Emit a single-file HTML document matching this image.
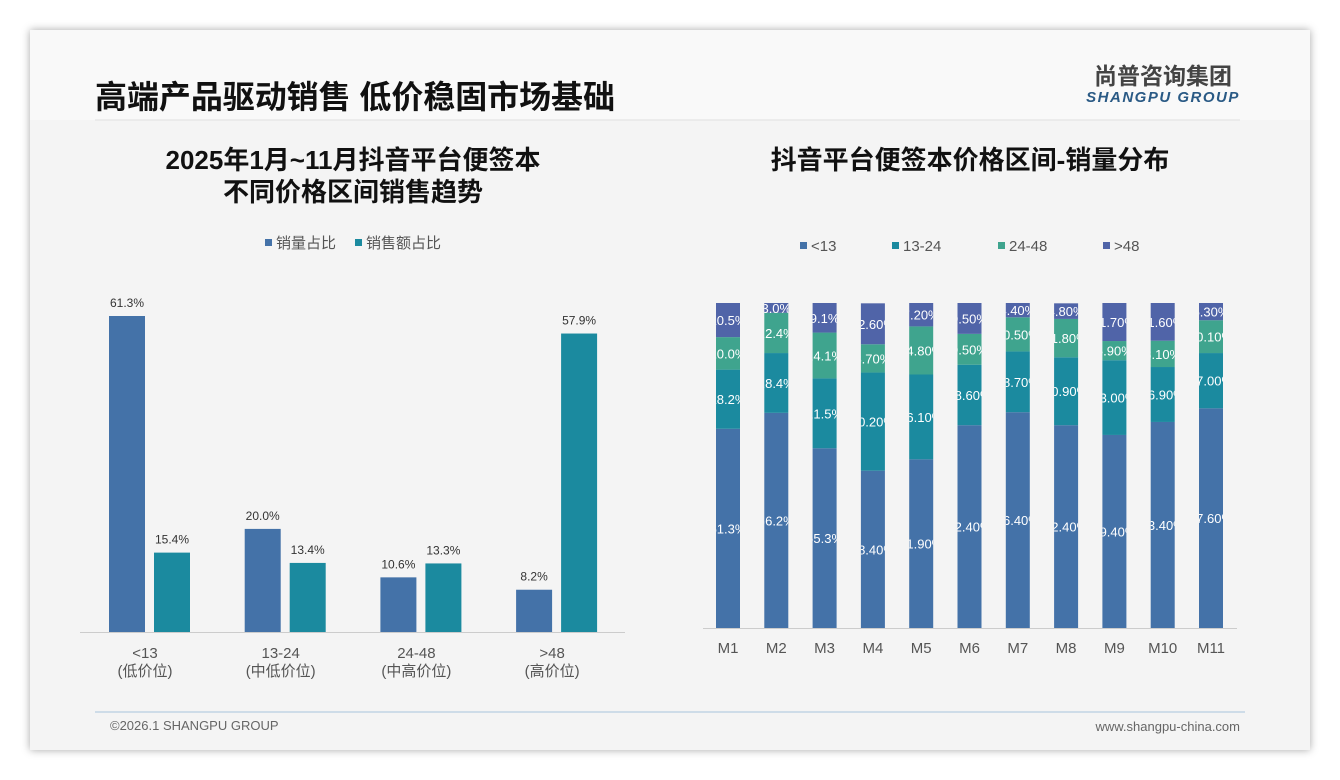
<!DOCTYPE html>
<html><head><meta charset="utf-8">
<style>
body{margin:0;width:1340px;height:780px;background:#fff;font-family:"Liberation Sans","Noto Sans CJK SC",sans-serif;position:relative;overflow:hidden}
.slide{position:absolute;left:30px;top:30px;width:1280px;height:720px;background:#f4f4f4;box-shadow:0 0 8px rgba(0,0,0,.35)}
</style></head><body>
<div class="slide"></div>
<svg width="1340" height="780" style="position:absolute;left:0;top:0">
<rect x="30" y="30" width="1280" height="90" fill="#f9f9f9"/>
<text x="95" y="108" font-size="32" font-weight="bold" fill="#111" textLength="520">高端产品驱动销售 低价稳固市场基础</text>
<line x1="95" y1="120" x2="1240" y2="120" stroke="#e0e0e0"/>
<text x="1163" y="84" font-size="23" font-weight="bold" fill="#444" text-anchor="middle">尚普咨询集团</text>
<text x="1163" y="102" font-size="15" font-weight="bold" font-style="italic" fill="#2a5a85" text-anchor="middle" letter-spacing="1.5">SHANGPU GROUP</text>
<text x="353" y="169" font-size="26" font-weight="bold" fill="#111" text-anchor="middle">2025年1月~11月抖音平台便签本</text>
<text x="353" y="201" font-size="26" font-weight="bold" fill="#111" text-anchor="middle">不同价格区间销售趋势</text>
<text x="970" y="169" font-size="26" font-weight="bold" fill="#111" text-anchor="middle">抖音平台便签本价格区间-销量分布</text>
<line x1="95" y1="712" x2="1245" y2="712" stroke="#a9c4dd"/>
<text x="110" y="730" font-size="13" fill="#666">©2026.1 SHANGPU GROUP</text>
<text x="1240" y="731" font-size="13" fill="#666" text-anchor="end">www.shangpu-china.com</text>
<g id="left"></g>
<g id="right"></g>
</svg>
<script>
const leftCats=["<13","13-24","24-48",">48"];
const leftSub=["(低价位)","(中低价位)","(中高价位)","(高价位)"];
const volShare=[61.3,20.0,10.6,8.2];
const amtShare=[15.4,13.4,13.3,57.9];
const months=["M1","M2","M3","M4","M5","M6","M7","M8","M9","M10","M11"];
const s13=[61.3,66.2,55.3,48.4,51.9,62.4,66.4,62.4,59.4,63.4,67.6];
const s1324=[18.2,18.4,21.5,30.2,26.1,18.6,18.7,20.9,23.0,16.9,17.0];
const s2448=[10.0,12.4,14.1,8.7,14.8,9.5,10.5,11.8,5.9,8.1,10.1];
const s48=[10.5,3.0,9.1,12.6,7.2,9.5,4.4,4.8,11.7,11.6,5.3];
const s13Lbl=["61.3%","66.2%","55.3%","48.40%","51.90%","62.40%","66.40%","62.40%","59.40%","63.40%","67.60%"];
const s1324Lbl=["18.2%","18.4%","21.5%","30.20%","26.10%","18.60%","18.70%","20.90%","23.00%","16.90%","17.00%"];
const s2448Lbl=["10.0%","12.4%","14.1%","8.70%","14.80%","9.50%","10.50%","11.80%","5.90%","8.10%","10.10%"];
const s48Lbl=["10.5%","3.0%","9.1%","12.60%","7.20%","9.50%","4.40%","4.80%","11.70%","11.60%","5.30%"];
const NS="http://www.w3.org/2000/svg";
function mk(p,t,a,txt){const e=document.createElementNS(NS,t);for(const k in a)e.setAttribute(k,a[k]);if(txt!=null)e.textContent=txt;p.appendChild(e);return e;}
// left chart
const L=document.getElementById('left');
const lBase=632, lScale=316/61.3;
const lx=i=>150+i*135.7;
const ly=v=>lBase-v*lScale;
const C1="#4472a8",C2="#1b8a9f";
let lg=mk(L,'rect',{x:265,y:239,width:7,height:7,fill:C1});


let lt=mk(L,'text',{x:276,y:248,'font-size':15,fill:'#555'},'销量占比');


lg=mk(L,'rect',{x:355,y:239,width:7,height:7,fill:C2});


lt=mk(L,'text',{x:366,y:248,'font-size':15,fill:'#555'},'销售额占比');


leftCats.forEach((c,i)=>{
  const cx=lx(i);
  const b1=mk(L,'rect',{x:cx-41,y:ly(volShare[i]),width:36,height:lBase-ly(volShare[i]),fill:C1});
  
  
  const b2=mk(L,'rect',{x:cx+4,y:ly(amtShare[i]),width:36,height:lBase-ly(amtShare[i]),fill:C2});
  
  
  mk(L,'text',{x:cx-23,y:ly(volShare[i])-9,'font-size':12,fill:'#333','text-anchor':'middle'},volShare[i].toFixed(1)+'%');
  mk(L,'text',{x:cx+22,y:ly(amtShare[i])-9,'font-size':12,fill:'#333','text-anchor':'middle'},amtShare[i].toFixed(1)+'%');
  const t=mk(L,'text',{x:cx-5,y:658,'font-size':15,fill:'#555','text-anchor':'middle'},c);
  
  
  mk(L,'text',{x:cx-5,y:676,'font-size':15,fill:'#555','text-anchor':'middle'},leftSub[i]);
});
mk(L,'line',{x1:80,y1:lBase+0.5,x2:625,y2:lBase+0.5,stroke:'#ccc'});
// right chart
const R=document.getElementById('right');
const rBase=628, rScale=325/100;
const rx=i=>728+i*48.3;
const series=[[s13,s13Lbl,"#4472a8","<13"],[s1324,s1324Lbl,"#1b8a9f","13-24"],[s2448,s2448Lbl,"#3fa48e","24-48"],[s48,s48Lbl,"#5064a8",">48"]];
const legX=[800,892,998,1103];
series.forEach((s,k)=>{
  const r=mk(R,'rect',{x:legX[k],y:242,width:7,height:7,fill:s[2]});
  
  
  const t=mk(R,'text',{x:legX[k]+11,y:251,'font-size':15,fill:'#555'},s[3]);
  
  
});
const defs=mk(R,'defs',{});
months.forEach((m,i)=>{
  const cx=rx(i);
  const cp=mk(defs,'clipPath',{id:'cp'+i});
  mk(cp,'rect',{x:cx-12,y:0,width:24,height:780});
  let acc=0;
  series.forEach((s,k)=>{
    const v=s[0][i];
    const y1=rBase-(acc+v)*rScale, h=v*rScale;
    const b=mk(R,'rect',{x:cx-12,y:y1,width:24,height:h,fill:s[2]});
    
    
    mk(R,'text',{x:cx,y:y1+h/2+5,'font-size':13,fill:'#fff','text-anchor':'middle','clip-path':'url(#cp'+i+')'},s[1][i]);
    acc+=v;
  });
  const t=mk(R,'text',{x:cx,y:653,'font-size':15,fill:'#555','text-anchor':'middle'},m);
  
  
});
mk(R,'line',{x1:703,y1:rBase+0.5,x2:1237,y2:rBase+0.5,stroke:'#ccc'});
</script>
</body></html>
